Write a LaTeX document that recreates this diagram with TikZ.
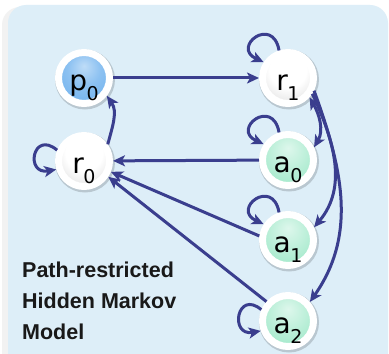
\documentclass[tikz,border=0pt]{standalone}
\usepackage{fontspec}
\setmainfont{DejaVu Sans}
\newfontfamily\txtfont{Liberation Sans}
\usetikzlibrary{arrows.meta}
\definecolor{panel}{RGB}{221,238,248}
\definecolor{arrowc}{RGB}{58,62,142}
\definecolor{pblue}{RGB}{112,178,238}
\definecolor{mint}{RGB}{158,232,200}
\pgfdeclareradialshading{pshade}{\pgfpoint{0bp}{12bp}}{color(0bp)=(pblue!45!white); color(16bp)=(pblue!80!white); color(34bp)=(pblue); color(46bp)=(pblue!85!black); color(60bp)=(pblue!80!black)}
\pgfdeclareradialshading{rshade}{\pgfpoint{0bp}{12bp}}{color(0bp)=(white); color(18bp)=(white); color(34bp)=(black!12); color(46bp)=(black!32); color(60bp)=(black!40)}
\pgfdeclareradialshading{ashade}{\pgfpoint{0bp}{12bp}}{color(0bp)=(mint!35!white); color(16bp)=(mint!65!white); color(34bp)=(mint); color(46bp)=(mint!85!black); color(60bp)=(mint!78!black)}
\tikzset{
  state/.style={circle, minimum size=51pt, inner sep=0pt, draw=white, line width=7pt,
    preaction={draw=black, draw opacity=0.16, line width=9pt, transform canvas={xshift=1pt,yshift=-1.5pt}},
    font=\fontsize{28}{28}\selectfont, text height=27pt, text depth=2pt},
  pstate/.style={state, shading=pshade},
  rstate/.style={state, shading=rshade},
  astate/.style={state, shading=ashade},
  tip/.tip={Stealth[length=12pt,width=11pt,inset=3pt]},
  arr/.style={draw=arrowc, line width=3pt, -tip},
  arrboth/.style={draw=arrowc, line width=3pt, tip-tip},
  txt/.style={inner sep=0pt, anchor=base west, font=\txtfont\bfseries\fontsize{21.5}{24}\selectfont, text=black!90}
}
\newcommand{\lbl}[2]{#1\kern-0.5pt\raisebox{-10pt}{\fontsize{19}{19}\selectfont #2}}
\begin{document}
\begin{tikzpicture}[x=1pt,y=1pt]
\useasboundingbox (0,0) rectangle (389,354);
\clip (0,0) rectangle (389,354);
\fill[white] (0,0) rectangle (389,354);
% panel shadow and panel
\fill[black!10, rounded corners=18pt] (4,-20) rectangle (385,346);
\fill[black!5, rounded corners=18pt] (2,-20) rectangle (386,347);
\fill[panel, rounded corners=18pt] (8,-20) rectangle (388,349);

% nodes
\node[pstate] (p0) at (84,276) {\lbl{p}{0}};
\node[rstate] (r1) at (288,276) {\lbl{r}{1}};
\node[rstate] (r0) at (84,193) {\lbl{r}{0}};
\node[astate] (a0) at (288,194) {\lbl{a}{0}};
\node[astate] (a1) at (288,114) {\lbl{a}{1}};
\node[astate] (a2) at (288,33) {\lbl{a}{2}};

% straight edges
\draw[arr] (p0) -- (r1);
\draw[arr] (a0) -- (r0);
\draw[arr] (a1.172) -- (r0.-22);
\draw[arr] (a2.138) -- (r0.-33);
% curved edges
\draw[arr] (r0.35) to[out=75,in=-55] (p0.-38);
\draw[arrboth] (r1.-42) to[out=-60,in=60] (a0.26);
\draw[arr] (r1.-33) to[out=-65,in=50] (a1.26);
\draw[arr] (r1.-26) to[out=-70,in=55] (a2.41);
% self loops
\draw[arr] (r1.108) .. controls +(100:36) and +(155:36) .. (r1.147);
\draw[arr] (a0.108) .. controls +(100:36) and +(155:36) .. (a0.147);
\draw[arr] (a1.108) .. controls +(100:36) and +(155:36) .. (a1.147);
\draw[arr] (r0.158) .. controls +(140:32) and +(190:32) .. (r0.197);
\draw[arr] (a2.157) .. controls +(140:32) and +(190:32) .. (a2.200);

% caption
\node[txt] (t1) at (22,76) {Path-restricted};
\node[txt] (t2) at (22,45) {Hidden Markov};
\node[txt] (t3) at (22,14) {Model};
\end{tikzpicture}
\end{document}
